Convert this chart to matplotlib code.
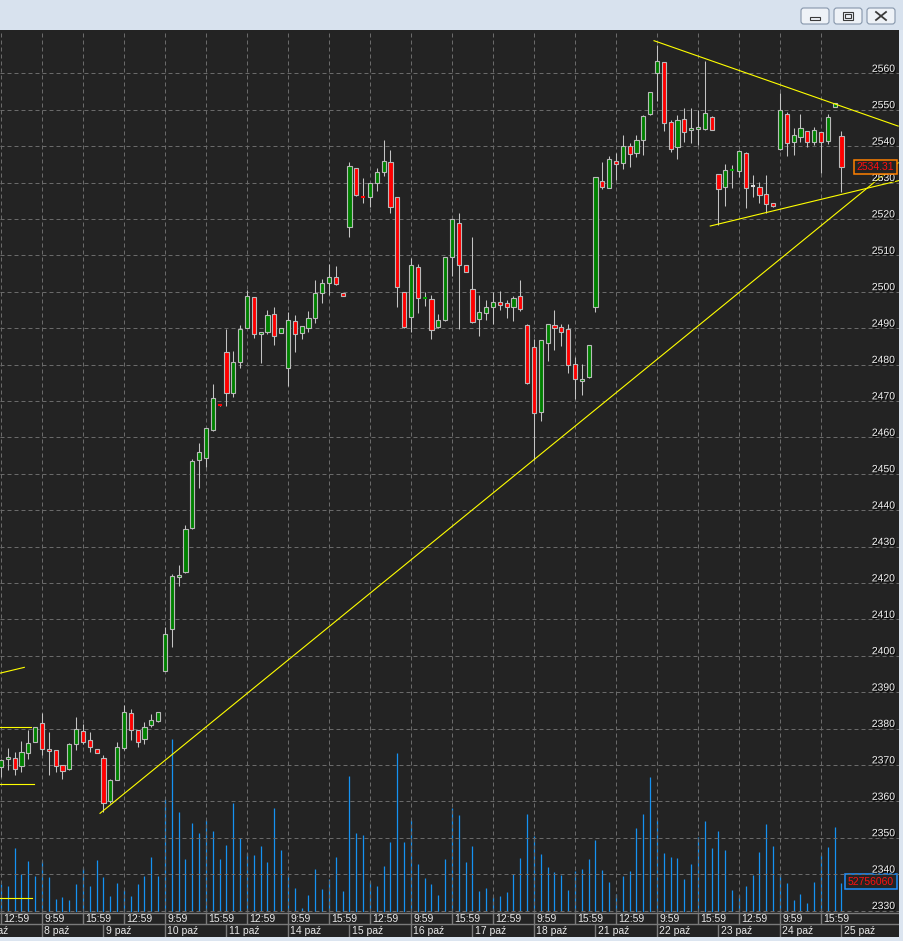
import matplotlib
matplotlib.use('Agg')
import matplotlib.pyplot as plt
from matplotlib.patches import Rectangle, FancyBboxPatch
from matplotlib.lines import Line2D
import matplotlib.transforms as mtransforms
import matplotlib.patheffects as pe

# ---------------- data (hourly candles, 7-25 Oct) ----------------
opens = [2369.3, 2371.6, 2371.9, 2369.8, 2373.2, 2376.4, 2381.4, 2374.5, 2374.1, 2370.0,
         2368.8, 2375.7, 2379.3, 2376.8, 2374.4, 2371.8, 2360.2, 2365.9, 2374.7, 2384.2,
         2379.6, 2377.0, 2381.1, 2382.0, 2395.9, 2407.3, 2421.6, 2422.9, 2435.0, 2453.7,
         2454.4, 2461.9, 2469.0, 2483.4, 2472.3, 2480.6, 2490.1, 2498.5, 2488.4, 2488.9,
         2493.8, 2488.7, 2479.1, 2492.0, 2488.7, 2490.1, 2492.7, 2499.6, 2502.3, 2504.0,
         2499.6, 2517.7, 2533.9, 2526.3, 2525.9, 2529.8, 2533.0, 2535.5, 2525.9, 2499.8,
         2493.1, 2506.7, 2498.1, 2497.9, 2490.2, 2492.1, 2509.6, 2518.8, 2507.3, 2500.7,
         2492.4, 2494.2, 2495.7, 2497.1, 2496.9, 2495.7, 2498.7, 2490.8, 2484.8, 2467.0,
         2486.0, 2490.8, 2490.3, 2489.8, 2480.1, 2475.4, 2476.5, 2495.7, 2530.3, 2528.6,
         2535.9, 2535.3, 2539.9, 2538.0, 2541.7, 2548.7, 2560.2, 2563.0, 2546.5, 2539.7,
         2547.4, 2544.4, 2544.6, 2544.8, 2548.1, 2532.3, 2528.7, 2533.3, 2533.2, 2538.2,
         2529.1, 2528.8, 2526.8, 2524.3, 2539.1, 2548.8, 2541.0, 2542.6, 2544.1, 2541.2,
         2543.8, 2541.5, 2550.8, 2542.8]
highs = [2371.5, 2374.7, 2373.5, 2376.6, 2379.6, 2380.5, 2384.2, 2379.1, 2374.2, 2370.1,
         2376.0, 2383.1, 2381.3, 2379.0, 2374.4, 2372.7, 2366.0, 2376.4, 2386.5, 2385.3,
         2379.7, 2381.7, 2384.0, 2384.6, 2407.8, 2422.4, 2425.0, 2435.9, 2454.0, 2458.4,
         2462.6, 2474.6, 2469.0, 2489.7, 2483.7, 2490.9, 2500.5, 2498.6, 2489.0, 2495.0,
         2495.9, 2490.0, 2494.5, 2493.6, 2490.7, 2494.7, 2503.2, 2503.5, 2507.6, 2507.0,
         2499.7, 2535.5, 2534.0, 2531.2, 2529.9, 2534.1, 2541.7, 2538.9, 2526.0, 2499.9,
         2509.2, 2507.5, 2500.0, 2499.1, 2494.0, 2509.6, 2520.0, 2521.7, 2507.4, 2515.0,
         2499.1, 2497.7, 2499.8, 2500.2, 2497.7, 2498.9, 2503.2, 2491.0, 2487.0, 2486.8,
         2491.2, 2495.0, 2491.1, 2491.1, 2482.0, 2480.1, 2485.4, 2531.5, 2535.7, 2537.3,
         2538.0, 2543.0, 2540.8, 2543.0, 2548.5, 2555.0, 2567.8, 2563.1, 2547.2, 2548.5,
         2550.4, 2550.4, 2549.9, 2563.5, 2548.2, 2532.4, 2535.0, 2534.8, 2538.8, 2538.3,
         2532.1, 2530.2, 2532.0, 2524.4, 2554.5, 2549.5, 2544.9, 2548.8, 2544.2, 2545.3,
         2543.9, 2548.8, 2551.9, 2544.2]
lows = [2366.8, 2368.6, 2367.2, 2368.0, 2371.5, 2376.2, 2372.7, 2367.2, 2368.1, 2366.1,
        2368.5, 2374.1, 2375.7, 2373.5, 2373.2, 2357.0, 2359.5, 2365.8, 2374.1, 2376.8,
        2375.0, 2375.7, 2380.3, 2381.9, 2395.8, 2402.3, 2419.2, 2422.8, 2434.9, 2446.0,
        2451.8, 2461.8, 2468.7, 2468.7, 2471.2, 2479.0, 2490.0, 2487.2, 2480.3, 2488.4,
        2485.4, 2488.6, 2474.1, 2483.5, 2487.0, 2489.0, 2491.5, 2496.8, 2499.1, 2501.8,
        2498.8, 2514.9, 2526.4, 2524.5, 2523.4, 2527.7, 2531.8, 2521.5, 2495.7, 2490.1,
        2489.0, 2494.1, 2496.1, 2486.9, 2490.1, 2492.0, 2504.4, 2489.8, 2505.3, 2491.5,
        2487.9, 2492.2, 2491.1, 2495.0, 2492.9, 2492.0, 2494.8, 2474.6, 2453.8, 2464.6,
        2481.0, 2484.0, 2485.1, 2477.6, 2470.6, 2471.6, 2476.4, 2494.5, 2528.2, 2528.5,
        2530.7, 2533.6, 2534.2, 2536.9, 2537.6, 2548.6, 2552.5, 2544.2, 2538.5, 2536.4,
        2541.2, 2540.9, 2540.3, 2544.4, 2544.3, 2518.3, 2523.6, 2528.4, 2531.6, 2522.9,
        2526.1, 2524.3, 2521.7, 2523.4, 2539.0, 2537.3, 2537.6, 2541.2, 2539.7, 2540.3,
        2532.5, 2540.6, 2550.8, 2527.3]
closes = [2371.3, 2372.2, 2369.0, 2373.5, 2376.0, 2380.3, 2374.5, 2373.7, 2369.8, 2368.4,
          2375.7, 2379.8, 2376.4, 2375.0, 2373.2, 2359.5, 2365.9, 2374.8, 2384.5, 2379.6,
          2376.2, 2380.5, 2382.3, 2384.5, 2406.0, 2421.9, 2422.2, 2434.8, 2453.5, 2456.0,
          2462.5, 2470.7, 2468.7, 2472.1, 2480.6, 2489.7, 2498.7, 2488.3, 2488.9, 2493.5,
          2487.9, 2489.9, 2492.2, 2488.5, 2490.6, 2492.7, 2499.6, 2502.3, 2504.0, 2502.0,
          2498.8, 2534.5, 2526.5, 2526.0, 2529.8, 2532.8, 2535.8, 2523.2, 2501.2, 2490.2,
          2507.3, 2498.2, 2498.3, 2489.4, 2492.1, 2509.5, 2519.9, 2507.3, 2505.3, 2491.8,
          2494.5, 2495.7, 2497.1, 2496.4, 2495.7, 2498.2, 2495.2, 2474.8, 2466.8, 2486.7,
          2491.1, 2490.1, 2489.0, 2480.0, 2475.9, 2475.9, 2485.3, 2531.4, 2528.8, 2536.4,
          2535.0, 2540.1, 2537.8, 2541.6, 2548.3, 2554.9, 2563.4, 2546.3, 2539.1, 2547.2,
          2543.8, 2545.0, 2545.2, 2549.0, 2544.4, 2528.1, 2533.4, 2533.5, 2538.7, 2528.4,
          2529.1, 2526.6, 2524.1, 2523.5, 2549.9, 2540.8, 2543.0, 2544.9, 2541.2, 2544.4,
          2541.0, 2548.1, 2551.9, 2534.31]
# volume in millions
volumes = [51, 47, 118, 69, 93, 66, 93, 64, 23, 27,
           22, 51, 80, 47, 95, 64, 29, 53, 40, 29,
           51, 66, 101, 66, 207, 318, 184, 97, 163, 145,
           170, 149, 97, 123, 200, 136, 108, 104, 121, 91,
           191, 114, 68, 44, 7, 31, 79, 42, 60, 101,
           38, 250, 145, 141, 56, 47, 84, 128, 292, 128,
           170, 88, 62, 51, 31, 97, 192, 178, 91, 121,
           38, 45, 27, 29, 36, 69, 99, 180, 139, 106,
           82, 73, 68, 40, 75, 79, 97, 132, 77, 56,
           34, 66, 75, 154, 180, 248, 169, 108, 101, 99,
           60, 88, 137, 167, 117, 148, 114, 40, 31, 47,
           68, 110, 161, 121, 69, 53, 22, 34, 16, 56,
           104, 119, 156, 52.75606]
last_volume_label = "52756060"

time_cycle = ['12:59', '9:59', '15:59']
date_labels = ['7 paź', '8 paź', '9 paź', '10 paź', '11 paź', '14 paź', '15 paź',
               '16 paź', '17 paź', '18 paź', '21 paź', '22 paź', '23 paź', '24 paź', '25 paź']
price_ticks = list(range(2330, 2561, 10))

# user-drawn trend lines (candle index, price)
trend_lines = [
    ([14.49, 131.3], [2356.7, 2535.4]),
    ([95.57, 131.3], [2568.96, 2545.5]),
    ([103.8, 131.35], [2518.05, 2530.5]),
    ([-0.15, 3.41], [2395.2, 2396.8]),
    ([-0.15, 4.39], [2380.3, 2380.3]),
    ([-0.15, 4.76], [2364.7, 2364.7]),
    ([-0.15, 4.49], [2333.4, 2333.4]),
]

# ---------------- figure ----------------
W, H = 904, 941
fig = plt.figure(figsize=(W / 100, H / 100), dpi=100)
fig.patch.set_facecolor('#dce5f0')
FONT = 'Liberation Sans'
BG = '#232323'

def fx(px):
    return px / W

def fy(py):
    return 1 - py / H

chart_top, chart_bot, chart_right = 30, 912, 899
step = 6.833
xl = (-1 / step, (chart_right - 1) / step)

# dark background for chart + time rows
fig.patches.append(Rectangle((0, fy(937)), fx(chart_right), (937 - chart_top) / H,
                             transform=fig.transFigure, facecolor=BG, edgecolor='none', zorder=-10))

rect = [0, fy(chart_bot), fx(chart_right), (chart_bot - chart_top) / H]
ax_v = fig.add_axes(rect)
ax_p = fig.add_axes(rect)
ax_p.set_zorder(2)
ax_v.set_zorder(1)
for ax in (ax_v, ax_p):
    ax.set_xlim(*xl)
    ax.set_xticks([])
    ax.set_yticks([])
    for s in ax.spines.values():
        s.set_visible(False)
    ax.patch.set_visible(False)

ax_p.set_ylim(2329.59, 2571.90)
vtop = (chart_bot - chart_top) * 1.838
ax_v.set_ylim(0, vtop)

n = len(opens)
xs = list(range(n))

# grid
grid_kw = dict(color='#6a6a6a', lw=0.72, ls=(0, (4, 3)), zorder=0.5)
for p in price_ticks:
    ax_p.axhline(p, **grid_kw)
for i in range(0, n, 6):
    ax_p.axvline(i, **grid_kw)

# volume
ax_v.vlines(xs, 0, volumes, color='#1592f2', lw=0.9)

# candles
w = 0.62
for i in range(n):
    o, h, l, c = opens[i], highs[i], lows[i], closes[i]
    ax_p.vlines(i, l, h, color='#c4c4c4', lw=0.75, zorder=3)
    if abs(c - o) < 0.45:
        col = '#ff0000' if c < o else ('#00a000' if c > o else '#dcdcdc')
        ax_p.hlines((o + c) / 2, i - w / 2, i + w / 2, color=col, lw=1.5, zorder=4)
    else:
        col = '#008000' if c > o else '#ff0000'
        ax_p.add_patch(Rectangle((i - w / 2, min(o, c)), w, abs(c - o),
                                 facecolor=col, edgecolor='#b9b9b9', lw=0.8, zorder=4))

# trend lines
for lx, ly in trend_lines:
    ax_p.plot(lx, ly, color='#ffff00', lw=0.8, zorder=5)

# price tick labels
blend_p = mtransforms.blended_transform_factory(ax_p.transAxes, ax_p.transData)
lab_off = mtransforms.ScaledTranslation(0, 4.5 / 100, fig.dpi_scale_trans)
for p in price_ticks:
    ax_p.text(895 / chart_right, p, str(p), transform=blend_p + lab_off, ha='right', va='center',
              fontsize=7.5, family=FONT, color='#f2f2f2', zorder=6, clip_on=False,
              path_effects=[pe.withSimplePatchShadow(offset=(0.8, -0.8), shadow_rgbFace='#000000', alpha=1.0)])

# last price box
last = closes[-1]
bh = 14.4 / 3.64
ax_p.add_patch(Rectangle((854 / chart_right, last - bh / 2), 43 / chart_right, bh, transform=blend_p,
                         facecolor=BG, edgecolor='#ff8000', lw=1.1, zorder=7, clip_on=False))
ax_p.text(875.5 / chart_right, last, f"{last:.2f}", transform=blend_p, ha='center', va='center',
          fontsize=7.5, family=FONT, color='#ff1010', zorder=8, clip_on=False)

# last volume box
blend_v = mtransforms.blended_transform_factory(ax_v.transAxes, ax_v.transData)
vh = 15 * 1.838
vc = volumes[-1] + 3
ax_v.add_patch(Rectangle((845.3 / chart_right, vc - vh / 2), 51.4 / chart_right, vh, transform=blend_v,
                         facecolor=BG, edgecolor='#1e90ff', lw=1.1, zorder=7, clip_on=False))
ax_v.text(871 / chart_right, vc, last_volume_label, transform=blend_v, ha='center', va='center',
          fontsize=7.5, family=FONT, color='#ff1010', zorder=8, clip_on=False)

# ---------------- time / date rows ----------------
ax_t = fig.add_axes([0, fy(937), fx(chart_right), 25 / H])
ax_t.set_xlim(*xl)
ax_t.set_ylim(0, 25)
ax_t.set_xticks([])
ax_t.set_yticks([])
for s in ax_t.spines.values():
    s.set_visible(False)
ax_t.patch.set_visible(False)
sep = '#7a7a7a'
ax_t.axhline(24.5, color=sep, lw=1.0)
ax_t.axhline(12.7, color=sep, lw=1.0)
for k, i in enumerate(range(0, n, 6)):
    ax_t.vlines(i, 12.7, 25, color=sep, lw=1.0)
    ax_t.text(i + 2.5 / step, 18.4, time_cycle[k % 3], ha='left', va='center',
              fontsize=7.5, family=FONT, color='#e8e8e8', clip_on=True)
for k, lab in enumerate(date_labels):
    d0 = -3 + 9 * k
    ax_t.vlines(d0, 0, 12.7, color=sep, lw=1.0)
    ax_t.text(d0 + 2.5 / step, 6.2, lab, ha='left', va='center',
              fontsize=7.5, family=FONT, color='#e8e8e8', clip_on=True)

# ---------------- title bar & window buttons ----------------
fig.patches.append(Rectangle((0, fy(chart_top)), 1, chart_top / H, transform=fig.transFigure,
                             facecolor='#d8e2ee', edgecolor='none', zorder=-9))
for x0 in (801, 834, 867):
    fig.patches.append(FancyBboxPatch((fx(x0), fy(24)), fx(28), 16 / H,
                                      boxstyle='round,pad=0,rounding_size=0.003',
                                      transform=fig.transFigure, facecolor='#eef2f7',
                                      edgecolor='#8696ab', lw=0.8, zorder=5))
# minimize glyph
fig.patches.append(Rectangle((fx(810), fy(20)), fx(10), 3 / H, transform=fig.transFigure,
                             facecolor='none', edgecolor='#3a3a3a', lw=0.8, zorder=6))
# maximize glyph
fig.patches.append(Rectangle((fx(843), fy(20)), fx(10), 8 / H, transform=fig.transFigure,
                             facecolor='none', edgecolor='#3a3a3a', lw=0.8, zorder=6))
fig.patches.append(Rectangle((fx(845), fy(18)), fx(6), 4 / H, transform=fig.transFigure,
                             facecolor='none', edgecolor='#3a3a3a', lw=0.8, zorder=6))
# close glyph
fig.lines.append(Line2D([fx(876), fx(886)], [fy(12), fy(20)], transform=fig.transFigure,
                        color='#3a3a3a', lw=1.3, zorder=6))
fig.lines.append(Line2D([fx(876), fx(886)], [fy(20), fy(12)], transform=fig.transFigure,
                        color='#3a3a3a', lw=1.3, zorder=6))

fig.savefig('out.png', dpi=100, facecolor=fig.get_facecolor())
